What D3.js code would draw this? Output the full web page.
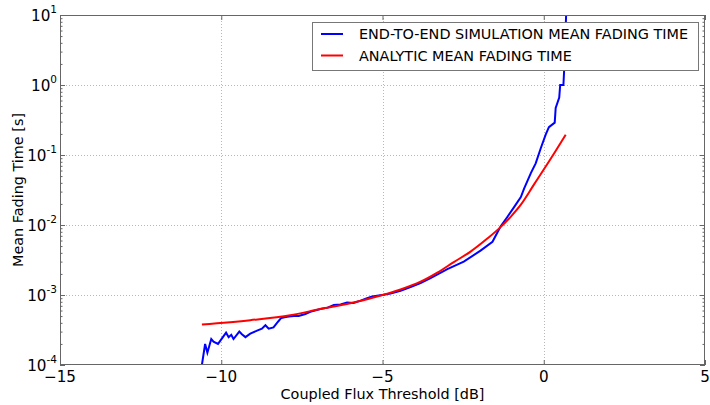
<!DOCTYPE html>
<html><head><meta charset="utf-8">
<script src="https://cdn.jsdelivr.net/npm/d3@7"></script>
<style>body{margin:0;background:#fff}svg{display:block}text{font-family:"DejaVu Sans",sans-serif;fill:#000}</style>
</head><body>
<script>
// ---- data ----
const xTicks = [-15, -10, -5, 0, 5];
const yTicks = [1e-4, 1e-3, 1e-2, 1e-1, 1, 10];
const yExponents = ["-4", "-3", "-2", "-1", "0", "1"];
const seriesNames = ["END-TO-END SIMULATION MEAN FADING TIME", "ANALYTIC MEAN FADING TIME"];

const simX = [-10.64,-10.60,-10.50,-10.43,-10.31,-10.24,-10.10,-9.85,-9.77,-9.69,-9.62,-9.44,-9.36,-9.25,-9.10,-8.89,-8.74,-8.63,-8.53,-8.38,-8.24,-8.14,-7.96,-7.75,-7.60,-7.39,-7.24,-6.93,-6.70,-6.51,-6.30,-6.10,-5.90,-5.68,-5.50,-5.32,-5.01,-4.75,-4.44,-4.13,-3.82,-3.51,-2.99,-2.48,-1.96,-1.59,-1.34,-1.13,-0.92,-0.71,-0.61,-0.40,-0.25,-0.09,0.06,0.16,0.34,0.37,0.48,0.51,0.61,0.63,0.70];
const simY = [8e-5,1.0e-4,2.0e-4,1.5e-4,2.35e-4,2.15e-4,2.0e-4,2.9e-4,2.5e-4,2.7e-4,2.35e-4,3.0e-4,2.75e-4,2.5e-4,2.8e-4,3.1e-4,3.3e-4,3.7e-4,3.3e-4,3.45e-4,4.15e-4,4.7e-4,4.9e-4,5.0e-4,5.0e-4,5.35e-4,5.75e-4,6.3e-4,6.6e-4,7.2e-4,7.3e-4,7.8e-4,7.7e-4,8.3e-4,8.9e-4,9.5e-4,1.0e-3,1.05e-3,1.15e-3,1.3e-3,1.48e-3,1.74e-3,2.35e-3,3.0e-3,4.3e-3,5.75e-3,9.5e-3,1.3e-2,1.8e-2,2.5e-2,3.3e-2,5.5e-2,7.6e-2,0.126,0.195,0.25,0.29,0.47,0.66,1.0,1.0,1.55,12];

const anaX = [-10.6,-9.1,-7.86,-6.93,-6.0,-5.0,-4.44,-3.82,-3.30,-2.79,-2.27,-1.75,-1.34,-1.02,-0.71,-0.30,0.22,0.68];
const anaY = [3.8e-4,4.37e-4,5.13e-4,6.3e-4,7.6e-4,1.0e-3,1.2e-3,1.55e-3,2.09e-3,2.95e-3,4.17e-3,6.4e-3,9.33e-3,1.32e-2,1.95e-2,3.8e-2,8.9e-2,0.195];

// ---- layout ----
const W = 710, H = 405;
const m = {left: 60, right: 705, top: 15, bottom: 365};
const FS = 14.4, TFS = 15.2;

const svg = d3.select("body").append("svg").attr("width", W).attr("height", H);
const x = d3.scaleLinear().domain([-15, 5]).range([m.left, m.right]);
const y = d3.scaleLog().domain([1e-4, 10]).range([m.bottom, m.top]);

svg.append("defs").append("clipPath").attr("id", "clip")
  .append("rect").attr("x", m.left).attr("y", m.top).attr("width", m.right - m.left).attr("height", m.bottom - m.top);

// grid
const grid = svg.append("g").attr("stroke", "#b8b8b8").attr("stroke-width", 1).attr("stroke-dasharray", "1,2");
xTicks.slice(1, -1).forEach(t => grid.append("line").attr("x1", Math.round(x(t)) + 0.5).attr("x2", Math.round(x(t)) + 0.5).attr("y1", m.top).attr("y2", m.bottom));
yTicks.slice(1, -1).forEach(t => grid.append("line").attr("y1", Math.round(y(t)) + 0.5).attr("y2", Math.round(y(t)) + 0.5).attr("x1", m.left).attr("x2", m.right));

// lines
const plot = svg.append("g").attr("clip-path", "url(#clip)");
const simData = simX.map((v, i) => [v, simY[i]]);
const anaData = anaX.map((v, i) => [v, anaY[i]]);
plot.append("path").datum(simData).attr("fill", "none").attr("stroke", "#0000ff").attr("stroke-width", 2)
  .attr("d", d3.line().x(d => x(d[0])).y(d => y(d[1])));
plot.append("path").datum(anaData).attr("fill", "none").attr("stroke", "#ff0000").attr("stroke-width", 2)
  .attr("d", d3.line().x(d => x(d[0])).y(d => y(d[1])).curve(d3.curveMonotoneX));

// axes frame + ticks (inward)
const axisCol = "#666";
const minorY = [];
for (let e = -4; e < 1; e++) for (let k = 2; k <= 9; k++) minorY.push(k * Math.pow(10, e));
const axes = [
  [d3.axisBottom(x).tickValues(xTicks).tickSizeInner(-5), `translate(0,${m.bottom})`],
  [d3.axisTop(x).tickValues(xTicks).tickSizeInner(-5), `translate(0,${m.top})`],
  [d3.axisLeft(y).tickValues(yTicks).tickSizeInner(-5), `translate(${m.left},0)`],
  [d3.axisRight(y).tickValues(yTicks).tickSizeInner(-5), `translate(${m.right},0)`],
  [d3.axisLeft(y).tickValues(minorY).tickSizeInner(-2.5), `translate(${m.left},0)`],
  [d3.axisRight(y).tickValues(minorY).tickSizeInner(-2.5), `translate(${m.right},0)`]
];
axes.forEach(([ax, tr]) => {
  const g = svg.append("g").attr("transform", tr).call(ax.tickSizeOuter(0).tickFormat(""));
  g.selectAll("line").attr("stroke", axisCol);
  g.select(".domain").remove();
});
svg.append("rect").attr("x", m.left + 0.5).attr("y", m.top + 0.5).attr("width", m.right - m.left - 1).attr("height", m.bottom - m.top - 1)
  .attr("fill", "none").attr("stroke", axisCol).attr("stroke-width", 1);

// x tick labels
xTicks.forEach(t => {
  svg.append("text").attr("x", x(t)).attr("y", m.bottom + 16.5).attr("text-anchor", "middle").attr("font-size", TFS)
    .text(t < 0 ? "\u2212" + Math.abs(t) : String(t));
});
// y tick labels
yTicks.forEach((t, i) => {
  const tx = svg.append("text").attr("x", m.left - 3).attr("y", y(t) + 5.5).attr("text-anchor", "end").attr("font-size", TFS);
  tx.append("tspan").text("10");
  tx.append("tspan").attr("dy", -7.5).attr("font-size", 10.5).text(yExponents[i]);
});

// axis titles
svg.append("text").attr("x", (m.left + m.right) / 2).attr("y", 398.5).attr("text-anchor", "middle").attr("font-size", FS)
  .text("Coupled Flux Threshold [dB]");
svg.append("text").attr("transform", `translate(23,${(m.top + m.bottom) / 2}) rotate(-90)`).attr("text-anchor", "middle")
  .attr("font-size", FS).text("Mean Fading Time [s]");

// legend
const lg = svg.append("g");
lg.append("rect").attr("x", 312.5).attr("y", 22.5).attr("width", 386).attr("height", 48)
  .attr("fill", "#fff").attr("stroke", "#777").attr("stroke-width", 1);
const colors = ["#0000ff", "#ff0000"];
seriesNames.forEach((n, i) => {
  const yy = 34 + i * 21.5;
  lg.append("line").attr("x1", 321).attr("x2", 343).attr("y1", yy).attr("y2", yy).attr("stroke", colors[i]).attr("stroke-width", 2);
  lg.append("text").attr("x", 359).attr("y", yy + 5.3).attr("font-size", FS).text(n);
});
</script>
</body></html>
